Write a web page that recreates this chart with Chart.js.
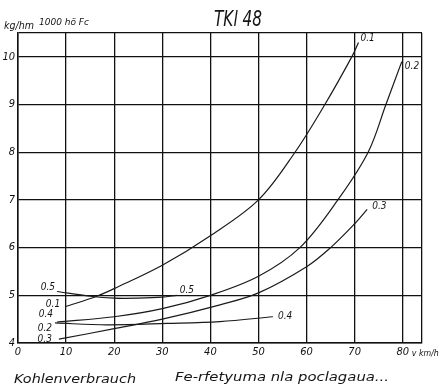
<!DOCTYPE html>
<html><head><meta charset="utf-8">
<script src="https://cdn.jsdelivr.net/npm/chart.js@4/dist/chart.umd.min.js"></script>
<style>html,body{margin:0;padding:0;background:#fff}canvas{display:block}</style>
</head><body>
<canvas id="c" width="443" height="391"></canvas>
<script>
// ---- data ----
const xTicks = [0, 10, 20, 30, 40, 50, 60, 70, 80];
const yTicks = [4, 5, 6, 7, 8, 9, 10];
const xMax = 84, yMin = 4, yMax = 10.5;

const s01x = [9.8, 16.4, 20, 30, 40, 50, 57.6, 63.8, 69.4, 70.8];
const s01y = [4.76, 4.98, 5.14, 5.63, 6.25, 7.0, 8.0, 9.0, 10.0, 10.3];

const s02x = [8.1, 20, 30, 40, 50, 58.6, 66.5, 72.8, 76.5, 79.8];
const s02y = [4.44, 4.55, 4.72, 5.0, 5.4, 6.0, 7.0, 8.0, 9.0, 9.9];

const s03x = [8.5, 20, 30, 42, 50, 60, 65, 70, 72.6];
const s03y = [4.08, 4.3, 4.5, 4.8, 5.05, 5.6, 6.0, 6.5, 6.8];

const s04x = [7.7, 18.5, 31, 42, 53];
const s04y = [4.42, 4.38, 4.41, 4.45, 4.55];

const s05x = [8.1, 15, 20, 25, 30, 33];
const s05y = [5.08, 4.98, 4.94, 4.94, 4.96, 5.0];

const seriesNames = ['0.1', '0.2', '0.3', '0.4', '0.5'];
const titleText = 'TKl 48';
const unitMain = 'kg/hm';
const unitSub = '1000 hö Fc';
const xUnit = 'v km/h';
const bottomLeft = 'Kohlenverbrauch';
const bottomRight = 'Fe-rfetyuma nla poclagaua...';

// ---- build ----
const pairs = (xs, ys) => xs.map((x, i) => ({x, y: ys[i]}));
const allSeries = [pairs(s01x, s01y), pairs(s02x, s02y), pairs(s03x, s03y), pairs(s04x, s04y), pairs(s05x, s05y)];

// label offsets (style only): [startDx, startDy, endDx, endDy]
const labelOffsets = [
  [-5, -2, 2, -4],
  [-5, 6, 3, 5],
  [-7, 0, 5, -3],
  [-2, -9, 5, 0],
  [-2, -4, 3, -5]
];

const FONT = "'DejaVu Sans Condensed','DejaVu Sans',sans-serif";
Chart.defaults.font.family = FONT;
Chart.defaults.font.style = 'italic';
Chart.defaults.color = '#111';

function fitText(ctx, text, x, y, w) {
  const m = ctx.measureText(text).width;
  ctx.save();
  ctx.translate(x, y);
  ctx.scale(w / m, 1);
  ctx.fillText(text, 0, 0);
  ctx.restore();
}

const textPlugin = {
  id: 'texts',
  afterDraw(chart) {
    const ctx = chart.ctx, xs = chart.scales.x, ys = chart.scales.y;
    ctx.save();
    ctx.fillStyle = '#151515';
    ctx.textBaseline = 'middle';
    ctx.font = 'italic 10px ' + FONT;
    allSeries.forEach((pts, i) => {
      const o = labelOffsets[i];
      const a = pts[0], b = pts[pts.length - 1];
      ctx.textAlign = 'right';
      ctx.fillText(seriesNames[i], xs.getPixelForValue(a.x) + o[0], ys.getPixelForValue(a.y) + o[1]);
      ctx.textAlign = 'left';
      ctx.fillText(seriesNames[i], xs.getPixelForValue(b.x) + o[2], ys.getPixelForValue(b.y) + o[3]);
    });
    ctx.textAlign = 'left';
    ctx.textBaseline = 'alphabetic';
    ctx.font = 'italic 300 22px ' + FONT;
    fitText(ctx, titleText, 214, 26, 48);
    ctx.font = 'italic 11px ' + FONT;
    fitText(ctx, unitMain, 4, 29, 30);
    ctx.font = 'italic 9px ' + FONT;
    fitText(ctx, unitSub, 39, 25, 50);
    ctx.font = 'italic 9px ' + FONT;
    fitText(ctx, xUnit, xs.getPixelForValue(80) + 9, 356, 27);
    ctx.font = 'italic 13px ' + FONT;
    fitText(ctx, bottomLeft, 14, 383, 122);
    ctx.font = 'italic 12px ' + FONT;
    fitText(ctx, bottomRight, 175, 381, 214);
    ctx.restore();
  }
};

new Chart(document.getElementById('c'), {
  type: 'line',
  data: {
    datasets: allSeries.map((pts, i) => ({
      label: seriesNames[i],
      data: pts,
      borderColor: '#1a1a1a',
      borderWidth: 1.2,
      pointRadius: 0,
      fill: false,
      tension: 0.35
    }))
  },
  options: {
    responsive: false,
    animation: false,
    layout: {padding: {top: 33, right: 21, left: 0, bottom: 0}},
    plugins: {legend: {display: false}, tooltip: {enabled: false}, title: {display: false}},
    scales: {
      x: {
        type: 'linear', min: 0, max: xMax,
        afterBuildTicks: s => { s.ticks = [...xTicks, xMax].map(v => ({value: v})); },
        afterFit: s => { s.height = 48; },
        ticks: {
          autoSkip: false, maxRotation: 0, padding: 3,
          font: {size: 11, style: 'italic'},
          callback: v => xTicks.includes(v) ? String(v) : ''
        },
        grid: {color: '#111', lineWidth: 1.3, drawTicks: false},
        border: {color: '#111', width: 1.5}
      },
      y: {
        type: 'linear', min: yMin, max: yMax,
        afterBuildTicks: s => { s.ticks = [...yTicks, yMax].map(v => ({value: v})); },
        afterFit: s => { s.width = 18; },
        ticks: {
          autoSkip: false, padding: 3,
          font: {size: 11, style: 'italic'},
          callback: v => yTicks.includes(v) ? String(v) : ''
        },
        grid: {color: '#111', lineWidth: 1.3, drawTicks: false},
        border: {color: '#111', width: 1.5}
      }
    }
  },
  plugins: [textPlugin]
});
</script>
</body></html>
